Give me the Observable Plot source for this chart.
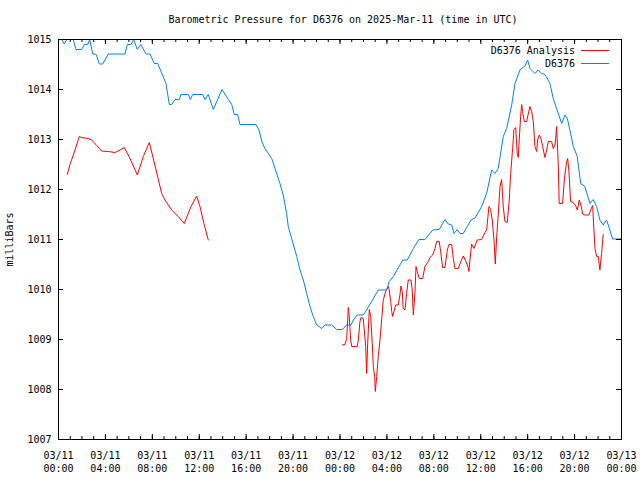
<!DOCTYPE html>
<html><head><meta charset="utf-8">
<script src="https://cdn.jsdelivr.net/npm/d3@7"></script>
<script src="https://cdn.jsdelivr.net/npm/@observablehq/plot@0.6"></script>
<style>
body{margin:0;background:#fff;}
#wrap{position:relative;width:640px;height:480px;font-family:"DejaVu Sans Mono",monospace;font-size:10px;color:#000;}
#title{box-sizing:border-box;height:27px;padding-top:14px;padding-left:46px;line-height:12px;text-align:center;white-space:pre;}
.lg{position:absolute;right:31px;display:flex;align-items:center;height:13px;line-height:13px;white-space:pre;}
.lg .sw{display:inline-block;width:28px;height:0;margin-left:6px;border-top:1px solid;}
</style></head>
<body><div id="wrap"><div id="title"></div><div id="chart"></div></div>
<script>
const titleText = "Barometric Pressure for D6376 on 2025-Mar-11 (time in UTC)";
const yLabel = "milliBars";
const seriesNames = ["D6376 Analysis", "D6376"];
const seriesColors = ["#ff0000", "#0080ff"];
const startDate = "2025-03-11T00:00:00Z";
const yTicks = [1007, 1008, 1009, 1010, 1011, 1012, 1013, 1014, 1015];
const majorTickHours = [0, 4, 8, 12, 16, 20, 24, 28, 32, 36, 40, 44, 48];

// D6376 station observations (hours since 03/11 00:00 UTC, mb)
const stationHours = [0.08,0.27,0.49,0.70,1.26,1.49,1.98,2.20,2.49,2.66,
2.92,3.17,3.26,3.48,3.77,4.25,5.67,5.87,6.18,6.41,
6.72,7.01,7.46,7.80,8.17,8.46,9.16,9.45,9.65,9.93,
10.30,10.44,11.07,11.24,11.44,12.29,12.49,12.77,13.20,13.94,
14.48,14.77,14.99,15.28,15.47,16.84,17.09,17.35,17.60,18.18,
18.46,18.88,19.16,19.45,19.59,19.88,20.31,20.59,20.87,21.16,
21.44,21.72,22.01,22.44,22.72,23.29,23.72,24.21,24.55,24.94,
25.13,25.47,25.98,26.27,26.70,27.26,27.98,28.20,28.54,29.11,
29.34,29.74,30.25,30.73,31.24,31.90,32.46,32.95,33.23,33.52,
33.72,34.00,34.23,34.51,35.17,35.51,36.08,36.50,36.93,37.21,
37.49,37.92,38.21,38.64,38.92,39.34,39.77,40.00,40.20,40.62,
40.90,41.19,41.48,41.90,42.18,42.47,42.90,43.18,43.38,43.60,
43.89,44.23,44.52,44.88,45.31,45.59,45.88,46.16,46.44,46.73,
47.01,47.24,48.00];
const stationPressure = [1015.00,1015.00,1014.91,1015.00,1015.00,1014.80,1014.80,1014.90,1014.90,1015.00,
1014.71,1014.71,1014.67,1014.51,1014.51,1014.71,1014.71,1014.90,1014.90,1015.00,
1014.80,1014.90,1014.71,1014.71,1014.52,1014.52,1014.12,1013.70,1013.70,1013.80,
1013.80,1013.90,1013.90,1013.80,1013.90,1013.90,1013.80,1013.90,1013.60,1014.00,
1013.80,1013.70,1013.50,1013.50,1013.30,1013.30,1013.19,1012.95,1012.82,1012.62,
1012.42,1012.12,1011.89,1011.52,1011.26,1011.02,1010.66,1010.39,1010.19,1009.92,
1009.66,1009.46,1009.29,1009.22,1009.29,1009.29,1009.20,1009.20,1009.29,1009.29,
1009.39,1009.49,1009.49,1009.59,1009.76,1009.99,1009.99,1010.16,1010.26,1010.49,
1010.59,1010.59,1010.82,1011.00,1011.00,1011.19,1011.20,1011.40,1011.31,1011.29,
1011.12,1011.20,1011.12,1011.12,1011.39,1011.43,1011.66,1011.92,1012.39,1012.32,
1012.42,1013.06,1013.22,1013.69,1014.12,1014.39,1014.47,1014.59,1014.42,1014.32,
1014.39,1014.32,1014.30,1014.12,1013.82,1013.62,1013.32,1013.49,1013.42,1013.19,
1012.86,1012.66,1012.12,1012.06,1011.72,1011.80,1011.66,1011.39,1011.29,1011.39,
1011.19,1011.01,1011.01];

// D6376 Analysis, first run
const analysisAHours = [0.75,0.98,1.41,1.77,1.98,2.54,2.83,3.26,3.68,4.25,4.82,5.25,5.61,6.10,
6.72,7.23,7.74,8.08,8.80,9.08,9.65,10.21,10.72,11.30,11.78,12.06,12.40,12.77];
const analysisAPressure = [1012.30,1012.50,1012.79,1013.06,1013.04,1013.02,1012.99,1012.88,1012.77,1012.76,1012.74,1012.79,1012.84,1012.62,
1012.29,1012.66,1012.94,1012.62,1011.92,1011.79,1011.59,1011.46,1011.32,1011.66,1011.87,1011.66,1011.32,1010.99];

// D6376 Analysis, second run
const analysisBHours = [24.19,24.42,24.57,24.71,24.79,24.91,25.00,25.47,25.56,25.70,
25.79,25.98,26.07,26.19,26.27,26.36,26.50,26.62,26.75,26.84,
26.96,27.01,27.13,27.26,27.41,27.55,27.69,27.92,28.12,28.20,
28.32,28.41,28.49,28.60,28.75,28.97,29.11,29.20,29.31,29.39,
29.54,29.68,29.82,30.05,30.16,30.25,30.39,30.48,30.59,30.76,
31.05,31.24,31.53,31.67,31.90,32.10,32.24,32.46,32.58,32.75,
32.95,33.15,33.29,33.52,33.66,33.80,34.08,34.31,34.51,34.74,
34.93,34.99,35.08,35.22,35.42,35.70,36.08,36.36,36.50,36.70,
36.84,36.98,37.13,37.24,37.36,37.49,37.64,37.78,37.92,38.06,
38.26,38.43,38.55,38.72,38.83,38.98,39.11,39.20,39.28,39.40,
39.49,39.57,39.71,39.91,40.05,40.19,40.34,40.48,40.62,40.77,
40.85,40.99,41.13,41.28,41.47,41.62,41.76,42.04,42.18,42.33,
42.41,42.47,42.61,42.69,42.98,43.12,43.32,43.41,43.52,43.66,
43.89,44.12,44.23,44.40,44.54,44.69,44.88,45.22,45.37,45.54,
45.65,45.74,45.88,46.02,46.16,46.30,46.44];
const analysisBPressure = [1008.89,1008.90,1009.02,1009.64,1009.46,1008.99,1008.86,1008.86,1008.99,1009.36,
1009.44,1009.42,1009.19,1008.86,1008.32,1008.92,1009.60,1009.46,1008.92,1008.46,
1008.26,1007.96,1008.26,1008.66,1008.99,1009.39,1009.79,1009.98,1010.06,1009.99,
1009.76,1009.56,1009.46,1009.56,1009.69,1009.69,1009.89,1010.07,1009.96,1009.62,
1009.59,1009.92,1010.19,1010.19,1009.99,1009.49,1009.92,1010.46,1010.36,1010.22,
1010.22,1010.46,1010.56,1010.64,1010.69,1010.82,1010.96,1010.96,1010.76,1010.44,
1010.44,1010.79,1010.90,1010.90,1010.62,1010.42,1010.42,1010.56,1010.67,1010.56,
1010.44,1010.36,1010.59,1010.91,1010.82,1010.99,1011.00,1011.14,1011.19,1011.66,
1011.60,1011.39,1010.99,1010.51,1011.06,1011.49,1012.06,1012.20,1011.66,1011.36,
1011.34,1011.79,1012.32,1012.82,1013.20,1013.24,1012.72,1012.64,1012.99,1013.46,
1013.70,1013.56,1013.36,1013.36,1013.51,1013.66,1013.56,1013.36,1012.86,1012.76,
1012.99,1013.09,1013.02,1012.86,1012.64,1012.79,1012.96,1012.96,1012.82,1012.89,
1013.09,1013.26,1012.49,1011.72,1011.72,1012.19,1012.56,1012.62,1012.36,1011.76,
1011.74,1011.66,1011.59,1011.79,1011.69,1011.51,1011.49,1011.49,1011.59,1011.68,
1011.19,1010.82,1010.66,1010.66,1010.39,1010.72,1011.10];

const t0 = new Date(startDate).getTime();
const toDate = h => new Date(t0 + h * 3600000);
const station = stationHours.map((h, i) => ({t: toDate(h), p: stationPressure[i]}));
const analysis = [
  ...analysisAHours.map((h, i) => ({t: toDate(h), p: analysisAPressure[i], run: "a"})),
  ...analysisBHours.map((h, i) => ({t: toDate(h), p: analysisBPressure[i], run: "b"}))
];
const majorTicks = majorTickHours.map(toDate);
const minorTicks = d3.utcHour.range(toDate(0), toDate(48.01));
const fmt = d3.utcFormat("%m/%d\n%H:%M");

document.getElementById("title").textContent = titleText;

const W = 640, H = 453, mT = 12, mB = 41, mL = 58, mR = 19;
const frameW = W - mL - mR, frameH = H - mT - mB;

// inward ticks: full-span tick marks inset down to a short stub at each edge
const ticksX = (data, side, len) => Plot.tickX(data, {
  x: d => d, stroke: "black", strokeWidth: 1,
  insetTop: side === "bottom" ? frameH - len : 0,
  insetBottom: side === "top" ? frameH - len : 0
});
const ticksY = (data, side, len) => Plot.tickY(data, {
  y: d => d, stroke: "black", strokeWidth: 1,
  insetRight: side === "left" ? frameW - len : 0,
  insetLeft: side === "right" ? frameW - len : 0
});

const chart = Plot.plot({
  width: W, height: H, marginTop: mT, marginBottom: mB, marginLeft: mL, marginRight: mR,
  style: {fontFamily: "DejaVu Sans Mono, monospace", fontSize: "10px", background: "white", color: "black"},
  x: {type: "utc", domain: [toDate(0), toDate(48)]},
  y: {domain: [1007, 1015]},
  marks: [
    Plot.line(analysis, {x: "t", y: "p", z: "run", stroke: seriesColors[0], strokeWidth: 1}),
    Plot.line(station, {x: "t", y: "p", stroke: seriesColors[1], strokeWidth: 1}),
    Plot.frame({stroke: "black"}),
    ticksY(yTicks, "left", 5),
    ticksY(yTicks, "right", 5),
    ticksX(minorTicks, "bottom", 3),
    ticksX(majorTicks, "bottom", 5),
    ticksX(minorTicks, "top", 3),
    ticksX(majorTicks, "top", 5),
    Plot.axisY(yTicks, {anchor: "left", tickSize: 0, tickPadding: 7, tickFormat: d => String(d),
      label: yLabel, labelAnchor: "center", labelOffset: 53, labelArrow: "none"}),
    Plot.axisX(majorTicks, {anchor: "bottom", tickSize: 0, tickPadding: 10, tickFormat: fmt, lineHeight: 1.3, label: null})
  ]
});
document.getElementById("chart").appendChild(chart);

const wrap = document.getElementById("wrap");
seriesNames.forEach((name, i) => {
  const row = document.createElement("div");
  row.className = "lg";
  row.style.top = (44 + i * 13) + "px";
  const txt = document.createElement("span");
  txt.textContent = name;
  const sw = document.createElement("span");
  sw.className = "sw";
  sw.style.borderTopColor = seriesColors[i];
  row.appendChild(txt);
  row.appendChild(sw);
  wrap.appendChild(row);
});
</script>
</body></html>
